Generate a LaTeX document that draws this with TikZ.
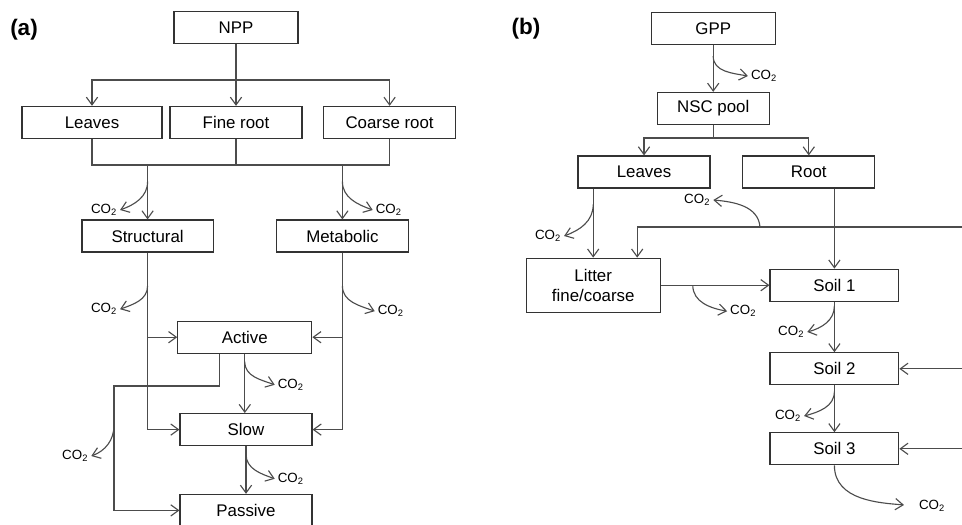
\documentclass[tikz,border=0pt]{standalone}
\usepackage{fontspec}
\setmainfont{Liberation Sans}
\usetikzlibrary{arrows.meta}

\begin{document}
\begin{tikzpicture}[
	pool/.style = {draw = black!80, thick, minimum height = 0.8cm, inner sep = 2pt, font = \fontsize{12}{14}\selectfont},
	flow/.style = {draw = black!70, thick, -{Straight Barb[length=5.5pt,width=8pt]}},
	line/.style = {draw = black!70, thick},
	gas/.style = {inner sep = 2pt, font = \fontsize{9.5}{11}\selectfont},
	panel/.style = {font = \fontsize{16}{18}\selectfont\bfseries}
	]
	
	\useasboundingbox (0,0) rectangle (24.05,-13.1);
	
	\node[panel] (Label-a) at (0.6,-0.75) {(a)};
	
	\node[pool, minimum width = 3.1cm] 
	(NPP) at (5.9,-0.69) {NPP};
	
	\coordinate (NPP-Split) at (5.9,-2.0);
	
	\node[pool, minimum width = 3.5cm] 
	(Leaves-A) at (2.3,-3.06) {Leaves};
	\node[pool, minimum width = 3.3cm] 
	(FineRoot) at (5.9,-3.06) {Fine root};
	\node[pool, minimum width = 3.3cm] 
	(CoarseRoot) at (9.74,-3.06) {Coarse root};
	
	\draw[line] (NPP) -- (NPP-Split);
	\draw[flow] (NPP-Split) -| (Leaves-A);
	\draw[flow] (NPP-Split) -- (FineRoot);
	\draw[flow] (NPP-Split) -| (CoarseRoot);
	
	\coordinate (Plant-Merge) at (5.9,-4.125);
	
	\draw[line] (Leaves-A) |- (Plant-Merge);
	\draw[line] (FineRoot) -- (Plant-Merge);
	\draw[line] (CoarseRoot) |- (Plant-Merge);
	
	\node[pool, minimum width = 3.28cm] 
	(Structural) at (3.69,-5.9) {Structural};
	\node[pool, minimum width = 3.3cm] 
	(Metabolic) at (8.56,-5.9) {Metabolic};
	
	\draw[flow] (Structural |- Plant-Merge) -- (Structural);
	\draw[flow] (Metabolic |- Plant-Merge) -- (Metabolic);
	
	\node[gas] (CO2-A1) at (2.6,-5.25) {CO\textsubscript{2}};
	\draw[flow] ([yshift=0.95cm]Structural.north) to[out=-90,in=20] (CO2-A1.east);
	\node[gas] (CO2-A2) at (9.72,-5.25) {CO\textsubscript{2}};
	\draw[flow] ([yshift=0.95cm]Metabolic.north) to[out=-90,in=160] (CO2-A2.west);
	
	\node[pool, minimum width = 3.35cm] 
	(Active) at (6.12,-8.43) {Active};
	\node[pool, minimum width = 3.3cm] 
	(Slow) at (6.15,-10.74) {Slow};
	\node[pool, minimum width = 3.3cm] 
	(Passive) at (6.15,-12.76) {Passive};
	
	\draw[flow] (Structural) |- (Slow);
	\draw[flow] (Structural |- Active) -- (Active);
	\draw[flow] (Metabolic) |- (Slow);
	\draw[flow] (Metabolic |- Active) -- (Active);
	
	\node[gas] (CO2-A3) at (2.6,-7.73) {CO\textsubscript{2}};
	\draw[flow] ([yshift=-0.83cm]Structural.south) to[out=-90,in=20] (CO2-A3.east);
	\node[gas] (CO2-A4) at (9.77,-7.78) {CO\textsubscript{2}};
	\draw[flow] ([yshift=-0.83cm]Metabolic.south) to[out=-90,in=160] (CO2-A4.west);
	
	\draw[flow] (Active.south) -- (Active.south |- Slow.north);
	\node[gas] (CO2-A5) at (7.27,-9.62) {CO\textsubscript{2}};
	\draw[flow] ([yshift=-0.2cm]Active.south) to[out=-90,in=160] (CO2-A5.west);
	
	\draw[flow] (Slow.south) -- (Slow.south |- Passive.north);
	\node[gas] (CO2-A6) at (7.27,-11.97) {CO\textsubscript{2}};
	\draw[flow] ([yshift=-0.2cm]Slow.south) to[out=-90,in=160] (CO2-A6.west);
	
	\coordinate (Passive-Route) at (2.85,-9.65);
	\draw[flow] ([xshift=-0.63cm]Active.south) |- (Passive-Route) |- (Passive);
	\node[gas] (CO2-A7) at (1.88,-11.4) {CO\textsubscript{2}};
	\draw[flow] ([yshift=-0.98cm]Passive-Route) to[out=-90,in=20] (CO2-A7.east);
	
	\node[panel] (Label-b) at (13.15,-0.72) {(b)};
	
	\node[pool, minimum width = 3.1cm] 
	(GPP) at (17.83,-0.71) {GPP};
	\node[pool, minimum width = 2.8cm] 
	(NSC) at (17.83,-2.71) {NSC pool};
	
	\draw[flow] (GPP) -- (NSC);
	\node[gas] (CO2-B1) at (19.1,-1.9) {CO\textsubscript{2}};
	\draw[flow] ([yshift=-0.28cm]GPP.south) to[out=-90,in=170] (CO2-B1.west);
	
	\coordinate (NSC-Split) at (17.83,-3.45);
	
	\node[pool, minimum width = 3.3cm] 
	(Leaves-B) at (16.1,-4.3) {Leaves};
	\node[pool, minimum width = 3.3cm] 
	(Root) at (20.22,-4.3) {Root};
	
	\draw[line] (NSC) -- (NSC-Split);
	\draw[flow] (NSC-Split) -| (Leaves-B);
	\draw[flow] (NSC-Split) -| (Root);
	
	\node[pool, minimum width = 3.35cm, minimum height = 1.35cm, align = center] 
	(Litter) at (14.83,-7.13) {Litter\\fine/coarse};
	\node[pool, minimum width = 3.22cm] 
	(Soil1) at (20.86,-7.13) {Soil 1};
	\node[pool, minimum width = 3.22cm] 
	(Soil2) at (20.86,-9.22) {Soil 2};
	\node[pool, minimum width = 3.22cm] 
	(Soil3) at (20.86,-11.22) {Soil 3};
	
	\draw[flow] (Litter |- Leaves-B.south) -- (Litter);
	\node[gas] (CO2-B2) at (13.7,-5.9) {CO\textsubscript{2}};
	\draw[flow] ([yshift=1.33cm]Litter.north) to[out=-90,in=20] (CO2-B2.east);
	
	\coordinate (Recycle-In) at (24.05,-5.675);
	\coordinate (Recycle-Split) at (19.0,-5.675);
	
	\draw[line] (Recycle-In) -- (Recycle-Split);
	\draw[flow] (Recycle-Split) -| ([xshift=1.1cm]Litter.north);
	\node[gas] (CO2-B3) at (17.43,-5.0) {CO\textsubscript{2}};
	\draw[flow] (Recycle-Split) to[out=95,in=-5] (CO2-B3.east);
	
	\draw[flow] (Soil1 |- Root.south) -- (Soil1);
	\draw[flow] (Litter) -- (Soil1);
	\node[gas] (CO2-B4) at (18.58,-7.78) {CO\textsubscript{2}};
	\draw[flow] ([xshift=0.8cm]Litter.east) to[out=-90,in=170] (CO2-B4.west);
	
	\draw[flow] (Soil1) -- (Soil2);
	\node[gas] (CO2-B5) at (19.78,-8.3) {CO\textsubscript{2}};
	\draw[flow] ([yshift=-0.1cm]Soil1.south) to[out=-90,in=15] (CO2-B5.east);
	
	\draw[flow] (Soil2) -- (Soil3);
	\node[gas] (CO2-B6) at (19.7,-10.4) {CO\textsubscript{2}};
	\draw[flow] ([yshift=-0.15cm]Soil2.south) to[out=-90,in=15] (CO2-B6.east);
	
	\coordinate (Soil2-In) at (24.05,-9.22);
	\coordinate (Soil3-In) at (24.05,-11.22);
	
	\draw[flow] (Soil2-In) -- (Soil2);
	\draw[flow] (Soil3-In) -- (Soil3);
	
	\node[gas] (CO2-B7) at (23.3,-12.65) {CO\textsubscript{2}};
	\draw[flow, shorten >= 0.3cm] (Soil3.south) to[out=-90,in=175] (CO2-B7.west);
	
\end{tikzpicture}
\end{document}
